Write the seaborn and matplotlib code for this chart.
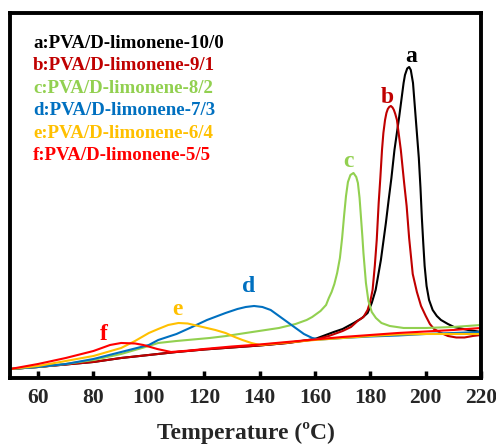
import numpy as np
import pandas as pd
import matplotlib
matplotlib.use("Agg")
import matplotlib.pyplot as plt
import seaborn as sns

# ---- data (heat flow in arbitrary units) ----
a_x = [50, 60, 70, 80, 90, 100, 110, 120, 130, 140, 150, 160, 166.8, 170, 174, 177, 179, 180.5,
       181.9, 183.8, 185.6, 186.6, 187.6, 188.7, 190.4, 192, 192.5, 193.3, 194, 194.6, 195.4,
       196.1, 196.8, 197.5, 198.1, 198.6, 199.1, 199.6, 200.3, 201.2, 202.5, 204, 205.5, 208,
       210.2, 215.3, 220]
a_y = [9, 11, 13.5, 16, 20, 23, 26, 28.5, 30.5, 32.5, 35, 39, 46, 49, 55, 60, 65, 75,
       88, 118, 155, 178, 200, 228, 261, 295, 303, 309.5, 311, 308, 295,
       270, 245, 220, 190, 160, 135, 112, 92, 78, 68, 62, 58, 54,
       51, 48, 46]

b_x = [50, 60, 70, 80, 90, 100, 110, 120, 130, 140, 150, 160, 165, 170, 173, 175.4, 177.5, 179,
       180, 180.8, 181.6, 182.3, 183, 183.6, 184.2, 184.7, 185.3, 185.8, 186.3, 186.8, 187.4,
       188, 188.5, 189, 189.6, 191, 192.2, 193.1, 194, 195.3, 196.8, 198.3, 200, 201.5, 203,
       205.5, 208, 211, 214, 217, 220]
b_y = [9, 11, 13.5, 16, 20, 23, 26, 28.5, 30.5, 32.5, 35, 38.5, 42, 47, 51, 57, 61, 68,
       77, 88, 112, 138, 175, 200, 228, 245, 258, 265, 269, 271, 272,
       270.5, 268, 264, 258, 228, 195, 172, 140, 104, 86, 72, 62, 54, 49,
       45, 42, 40.5, 40.5, 42, 43]

c_x = [50, 60, 70, 80, 90, 100, 103.4, 110, 116, 122, 128, 135, 141, 147, 153, 157, 159, 162,
       164, 165, 166, 167, 168, 169, 169.8, 170.5, 171.2, 171.9, 172.8, 173.9, 174.9, 175.5,
       176.1, 176.6, 177.1, 177.5, 178.4, 179.3, 180.5, 182, 184, 187, 192, 200, 210, 220]
c_y = [9, 11, 14, 18, 24, 32, 35, 37, 38.5, 40, 42, 45, 47.5, 50, 54, 58, 61, 67,
       73, 80, 86, 94, 105, 120, 140, 162, 182, 196, 203, 205, 201, 195,
       180, 161, 142, 125, 95, 77, 66, 60, 55, 52, 50, 50, 51, 53]

d_x = [50, 60, 70, 80, 90, 100, 103.4, 110, 115.6, 121, 127.7, 132, 135, 138, 141, 144, 147,
       150, 153, 156, 159, 162, 170, 180, 190, 200, 210, 220]
d_y = [9, 11, 14, 19, 26, 33, 38, 44, 51, 58, 65, 69, 71, 72, 71, 68, 62,
       56, 50, 44, 40, 38.5, 40, 41.5, 42.5, 44, 45, 46]

e_x = [50, 60, 70, 80, 90, 95, 100, 103.4, 107, 110.7, 114, 119.4, 124, 127.7, 131, 133.8,
       137, 140, 150, 160, 170, 180, 190, 200, 210, 220]
e_y = [9, 12, 17, 22, 30, 37, 45, 49, 53, 55, 54.5, 51, 48, 45, 41, 38,
       35, 33, 35.5, 38, 40, 42, 43.5, 44, 44, 44]

f_x = [50, 60, 70, 80, 86, 90, 95, 98, 103, 108, 115, 120, 130, 140, 150, 160, 170, 180,
       190, 200, 210, 220]
f_y = [9, 14, 20, 27, 33, 35, 34.5, 33, 29, 26, 27.5, 29, 31.5, 33.5, 36, 38.5, 41, 43,
       45, 46.5, 48, 50]

series_keys = ["a", "b", "c", "d", "e", "f"]
legend_texts = ["a:PVA/D-limonene-10/0", "b:PVA/D-limonene-9/1", "c:PVA/D-limonene-8/2",
                "d:PVA/D-limonene-7/3", "e:PVA/D-limonene-6/4", "f:PVA/D-limonene-5/5"]
colors = ["#000000", "#C00000", "#92D050", "#0070C0", "#FFC000", "#FF0000"]
# peak label anchor points (x, baseline y)
label_x = [194.9, 186.0, 171.9, 136.0, 110.3, 83.9]
label_y = [316, 275, 211, 86, 63, 38]

x_ticks = [60, 80, 100, 120, 140, 160, 180, 200, 220]
x_label = "Temperature (ºC)"

# ---- build table ----
xs = [a_x, b_x, c_x, d_x, e_x, f_x]
ys = [a_y, b_y, c_y, d_y, e_y, f_y]
frames = []
for k, x, y in zip(series_keys, xs, ys):
    frames.append(pd.DataFrame({"T": x, "H": y, "sample": k}))
df = pd.concat(frames, ignore_index=True)

sns.set_theme(style="white")
plt.rcParams["font.family"] = ["Liberation Serif", "DejaVu Serif"]
plt.rcParams["font.weight"] = "bold"

fig = plt.figure(figsize=(4.96, 4.45), dpi=100)
ax = fig.add_axes([0.021, 0.1506, 0.949, 0.8202])

sns.lineplot(data=df, x="T", y="H", hue="sample", units="sample", estimator=None,
             sort=False, palette=dict(zip(series_keys, colors)), linewidth=1.5,
             legend=False, ax=ax)

ax.set_xlim(50, 220)
ax.set_ylim(0, 365)
ax.set_xticks(x_ticks)
ax.set_xticklabels([str(t) for t in x_ticks], fontsize=15.5, fontweight="bold")
ax.set_yticks([])
ax.set_ylabel("")
ax.set_xlabel(x_label, fontsize=17, fontweight="bold", labelpad=10)
ax.tick_params(axis="x", direction="in", length=5, width=2.5, pad=7, color="black",
               bottom=True, top=False)
for s in ax.spines.values():
    s.set_linewidth(2.8)
    s.set_color("black")

# legend-like coloured text block
leg_y = [330, 307.5, 285, 262.5, 240, 217.5]
for txt, col, yy in zip(legend_texts, colors, leg_y):
    ax.text(58.2, yy, txt, color=col, fontsize=13.6, fontweight="bold", va="baseline", ha="left")

# peak labels
for k, col, lx, ly in zip(series_keys, colors, label_x, label_y):
    ax.text(lx, ly, k, color=col, fontsize=17, fontweight="bold", ha="center", va="baseline")

fig.savefig("out.png", dpi=100)
